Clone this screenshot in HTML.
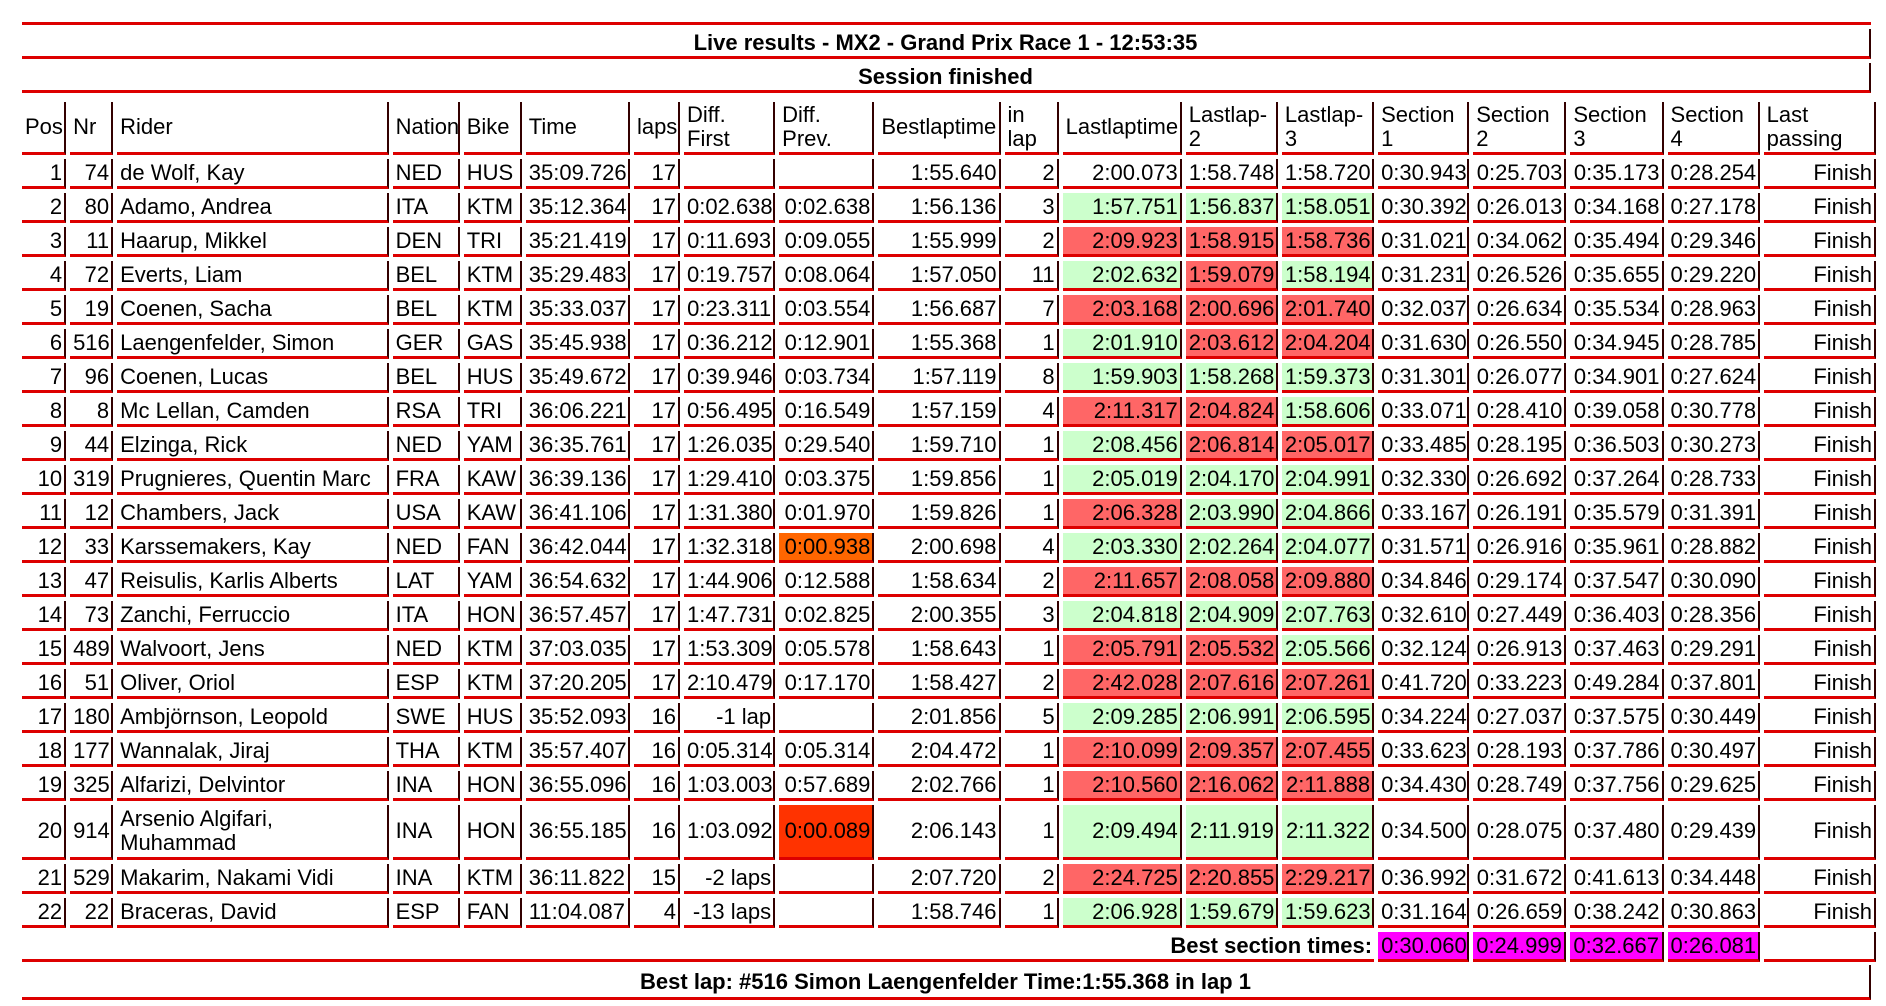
<!DOCTYPE html>
<html><head><meta charset="utf-8">
<style>
html,body{margin:0;padding:0;background:#fff;width:1886px;height:1006px;overflow:hidden;font-family:"Liberation Sans",Arial,sans-serif;color:#000}
.box{position:absolute;left:22px;width:1849px;border-right:2px solid #300;border-bottom:3px solid #d00;font-weight:bold;font-size:22px;text-align:center;box-sizing:border-box}
table{position:absolute;left:18px;top:98px;border-collapse:separate;border-spacing:4px;table-layout:fixed;width:1862px;font-size:22px;line-height:24px}
td{box-sizing:border-box;border-right:2px solid #300;border-bottom:3px solid #d00;padding:0 2px 0 3px;height:30px;text-align:right;white-space:nowrap;overflow:hidden;vertical-align:middle}
td:nth-child(3),td:nth-child(4),td:nth-child(5),td:nth-child(6){text-align:left}
tr.h td{height:53px;text-align:left;white-space:normal;line-height:24px}
tr.t td{height:55px}
tr.t td:nth-child(3){white-space:normal}
.g{background:#ccffcc}.r{background:#ff6666}.o{background:#ff6600}.o2{background:#ff3300}.m{background:#ff00ff}
td.nb{border-right:none;font-weight:bold}
</style></head><body>
<div class="box" style="top:0;height:25px;border-right:none"></div>
<div class="box" style="top:29px;height:30px;line-height:28px">Live results - MX2 - Grand Prix Race 1 - 12:53:35</div>
<div class="box" style="top:63px;height:30px;line-height:28px">Session finished</div>
<table>
<colgroup><col style="width:44px"><col style="width:43px"><col style="width:271px"><col style="width:67px"><col style="width:58px"><col style="width:104px"><col style="width:46px"><col style="width:91px"><col style="width:95px"><col style="width:122px"><col style="width:54px"><col style="width:119px"><col style="width:92px"><col style="width:92px"><col style="width:91px"><col style="width:93px"><col style="width:93px"><col style="width:92px"><col style="width:112px"></colgroup>
<tr class="h"><td>Pos</td><td>Nr</td><td>Rider</td><td>Nation</td><td>Bike</td><td>Time</td><td>laps</td><td>Diff. First</td><td>Diff. Prev.</td><td>Bestlaptime</td><td>in lap</td><td>Lastlaptime</td><td>Lastlap-2</td><td>Lastlap-3</td><td>Section 1</td><td>Section 2</td><td>Section 3</td><td>Section 4</td><td>Last passing</td></tr>
<tr><td>1</td><td>74</td><td>de Wolf, Kay</td><td>NED</td><td>HUS</td><td>35:09.726</td><td>17</td><td></td><td></td><td>1:55.640</td><td>2</td><td>2:00.073</td><td>1:58.748</td><td>1:58.720</td><td>0:30.943</td><td>0:25.703</td><td>0:35.173</td><td>0:28.254</td><td>Finish</td></tr>
<tr><td>2</td><td>80</td><td>Adamo, Andrea</td><td>ITA</td><td>KTM</td><td>35:12.364</td><td>17</td><td>0:02.638</td><td>0:02.638</td><td>1:56.136</td><td>3</td><td class="g">1:57.751</td><td class="g">1:56.837</td><td class="g">1:58.051</td><td>0:30.392</td><td>0:26.013</td><td>0:34.168</td><td>0:27.178</td><td>Finish</td></tr>
<tr><td>3</td><td>11</td><td>Haarup, Mikkel</td><td>DEN</td><td>TRI</td><td>35:21.419</td><td>17</td><td>0:11.693</td><td>0:09.055</td><td>1:55.999</td><td>2</td><td class="r">2:09.923</td><td class="r">1:58.915</td><td class="r">1:58.736</td><td>0:31.021</td><td>0:34.062</td><td>0:35.494</td><td>0:29.346</td><td>Finish</td></tr>
<tr><td>4</td><td>72</td><td>Everts, Liam</td><td>BEL</td><td>KTM</td><td>35:29.483</td><td>17</td><td>0:19.757</td><td>0:08.064</td><td>1:57.050</td><td>11</td><td class="g">2:02.632</td><td class="r">1:59.079</td><td class="g">1:58.194</td><td>0:31.231</td><td>0:26.526</td><td>0:35.655</td><td>0:29.220</td><td>Finish</td></tr>
<tr><td>5</td><td>19</td><td>Coenen, Sacha</td><td>BEL</td><td>KTM</td><td>35:33.037</td><td>17</td><td>0:23.311</td><td>0:03.554</td><td>1:56.687</td><td>7</td><td class="r">2:03.168</td><td class="r">2:00.696</td><td class="r">2:01.740</td><td>0:32.037</td><td>0:26.634</td><td>0:35.534</td><td>0:28.963</td><td>Finish</td></tr>
<tr><td>6</td><td>516</td><td>Laengenfelder, Simon</td><td>GER</td><td>GAS</td><td>35:45.938</td><td>17</td><td>0:36.212</td><td>0:12.901</td><td>1:55.368</td><td>1</td><td class="g">2:01.910</td><td class="r">2:03.612</td><td class="r">2:04.204</td><td>0:31.630</td><td>0:26.550</td><td>0:34.945</td><td>0:28.785</td><td>Finish</td></tr>
<tr><td>7</td><td>96</td><td>Coenen, Lucas</td><td>BEL</td><td>HUS</td><td>35:49.672</td><td>17</td><td>0:39.946</td><td>0:03.734</td><td>1:57.119</td><td>8</td><td class="g">1:59.903</td><td class="g">1:58.268</td><td class="g">1:59.373</td><td>0:31.301</td><td>0:26.077</td><td>0:34.901</td><td>0:27.624</td><td>Finish</td></tr>
<tr><td>8</td><td>8</td><td>Mc Lellan, Camden</td><td>RSA</td><td>TRI</td><td>36:06.221</td><td>17</td><td>0:56.495</td><td>0:16.549</td><td>1:57.159</td><td>4</td><td class="r">2:11.317</td><td class="r">2:04.824</td><td class="g">1:58.606</td><td>0:33.071</td><td>0:28.410</td><td>0:39.058</td><td>0:30.778</td><td>Finish</td></tr>
<tr><td>9</td><td>44</td><td>Elzinga, Rick</td><td>NED</td><td>YAM</td><td>36:35.761</td><td>17</td><td>1:26.035</td><td>0:29.540</td><td>1:59.710</td><td>1</td><td class="g">2:08.456</td><td class="r">2:06.814</td><td class="r">2:05.017</td><td>0:33.485</td><td>0:28.195</td><td>0:36.503</td><td>0:30.273</td><td>Finish</td></tr>
<tr><td>10</td><td>319</td><td>Prugnieres, Quentin Marc</td><td>FRA</td><td>KAW</td><td>36:39.136</td><td>17</td><td>1:29.410</td><td>0:03.375</td><td>1:59.856</td><td>1</td><td class="g">2:05.019</td><td class="g">2:04.170</td><td class="g">2:04.991</td><td>0:32.330</td><td>0:26.692</td><td>0:37.264</td><td>0:28.733</td><td>Finish</td></tr>
<tr><td>11</td><td>12</td><td>Chambers, Jack</td><td>USA</td><td>KAW</td><td>36:41.106</td><td>17</td><td>1:31.380</td><td>0:01.970</td><td>1:59.826</td><td>1</td><td class="r">2:06.328</td><td class="g">2:03.990</td><td class="g">2:04.866</td><td>0:33.167</td><td>0:26.191</td><td>0:35.579</td><td>0:31.391</td><td>Finish</td></tr>
<tr><td>12</td><td>33</td><td>Karssemakers, Kay</td><td>NED</td><td>FAN</td><td>36:42.044</td><td>17</td><td>1:32.318</td><td class="o">0:00.938</td><td>2:00.698</td><td>4</td><td class="g">2:03.330</td><td class="g">2:02.264</td><td class="g">2:04.077</td><td>0:31.571</td><td>0:26.916</td><td>0:35.961</td><td>0:28.882</td><td>Finish</td></tr>
<tr><td>13</td><td>47</td><td>Reisulis, Karlis Alberts</td><td>LAT</td><td>YAM</td><td>36:54.632</td><td>17</td><td>1:44.906</td><td>0:12.588</td><td>1:58.634</td><td>2</td><td class="r">2:11.657</td><td class="r">2:08.058</td><td class="r">2:09.880</td><td>0:34.846</td><td>0:29.174</td><td>0:37.547</td><td>0:30.090</td><td>Finish</td></tr>
<tr><td>14</td><td>73</td><td>Zanchi, Ferruccio</td><td>ITA</td><td>HON</td><td>36:57.457</td><td>17</td><td>1:47.731</td><td>0:02.825</td><td>2:00.355</td><td>3</td><td class="g">2:04.818</td><td class="g">2:04.909</td><td class="g">2:07.763</td><td>0:32.610</td><td>0:27.449</td><td>0:36.403</td><td>0:28.356</td><td>Finish</td></tr>
<tr><td>15</td><td>489</td><td>Walvoort, Jens</td><td>NED</td><td>KTM</td><td>37:03.035</td><td>17</td><td>1:53.309</td><td>0:05.578</td><td>1:58.643</td><td>1</td><td class="r">2:05.791</td><td class="r">2:05.532</td><td class="g">2:05.566</td><td>0:32.124</td><td>0:26.913</td><td>0:37.463</td><td>0:29.291</td><td>Finish</td></tr>
<tr><td>16</td><td>51</td><td>Oliver, Oriol</td><td>ESP</td><td>KTM</td><td>37:20.205</td><td>17</td><td>2:10.479</td><td>0:17.170</td><td>1:58.427</td><td>2</td><td class="r">2:42.028</td><td class="r">2:07.616</td><td class="r">2:07.261</td><td>0:41.720</td><td>0:33.223</td><td>0:49.284</td><td>0:37.801</td><td>Finish</td></tr>
<tr><td>17</td><td>180</td><td>Ambjörnson, Leopold</td><td>SWE</td><td>HUS</td><td>35:52.093</td><td>16</td><td>-1 lap</td><td></td><td>2:01.856</td><td>5</td><td class="g">2:09.285</td><td class="g">2:06.991</td><td class="g">2:06.595</td><td>0:34.224</td><td>0:27.037</td><td>0:37.575</td><td>0:30.449</td><td>Finish</td></tr>
<tr><td>18</td><td>177</td><td>Wannalak, Jiraj</td><td>THA</td><td>KTM</td><td>35:57.407</td><td>16</td><td>0:05.314</td><td>0:05.314</td><td>2:04.472</td><td>1</td><td class="r">2:10.099</td><td class="r">2:09.357</td><td class="r">2:07.455</td><td>0:33.623</td><td>0:28.193</td><td>0:37.786</td><td>0:30.497</td><td>Finish</td></tr>
<tr><td>19</td><td>325</td><td>Alfarizi, Delvintor</td><td>INA</td><td>HON</td><td>36:55.096</td><td>16</td><td>1:03.003</td><td>0:57.689</td><td>2:02.766</td><td>1</td><td class="r">2:10.560</td><td class="r">2:16.062</td><td class="r">2:11.888</td><td>0:34.430</td><td>0:28.749</td><td>0:37.756</td><td>0:29.625</td><td>Finish</td></tr>
<tr class="t"><td>20</td><td>914</td><td>Arsenio Algifari, Muhammad</td><td>INA</td><td>HON</td><td>36:55.185</td><td>16</td><td>1:03.092</td><td class="o2">0:00.089</td><td>2:06.143</td><td>1</td><td class="g">2:09.494</td><td class="g">2:11.919</td><td class="g">2:11.322</td><td>0:34.500</td><td>0:28.075</td><td>0:37.480</td><td>0:29.439</td><td>Finish</td></tr>
<tr><td>21</td><td>529</td><td>Makarim, Nakami Vidi</td><td>INA</td><td>KTM</td><td>36:11.822</td><td>15</td><td>-2 laps</td><td></td><td>2:07.720</td><td>2</td><td class="r">2:24.725</td><td class="r">2:20.855</td><td class="r">2:29.217</td><td>0:36.992</td><td>0:31.672</td><td>0:41.613</td><td>0:34.448</td><td>Finish</td></tr>
<tr><td>22</td><td>22</td><td>Braceras, David</td><td>ESP</td><td>FAN</td><td>11:04.087</td><td>4</td><td>-13 laps</td><td></td><td>1:58.746</td><td>1</td><td class="g">2:06.928</td><td class="g">1:59.679</td><td class="g">1:59.623</td><td>0:31.164</td><td>0:26.659</td><td>0:38.242</td><td>0:30.863</td><td>Finish</td></tr>
<tr><td colspan="14" class="nb" style="text-align:right">Best section times:</td><td class="m">0:30.060</td><td class="m">0:24.999</td><td class="m">0:32.667</td><td class="m">0:26.081</td><td></td></tr>
</table>
<div class="box" style="top:965px;height:35px;line-height:33px">Best lap: #516 Simon Laengenfelder Time:1:55.368 in lap 1</div>
</body></html>
